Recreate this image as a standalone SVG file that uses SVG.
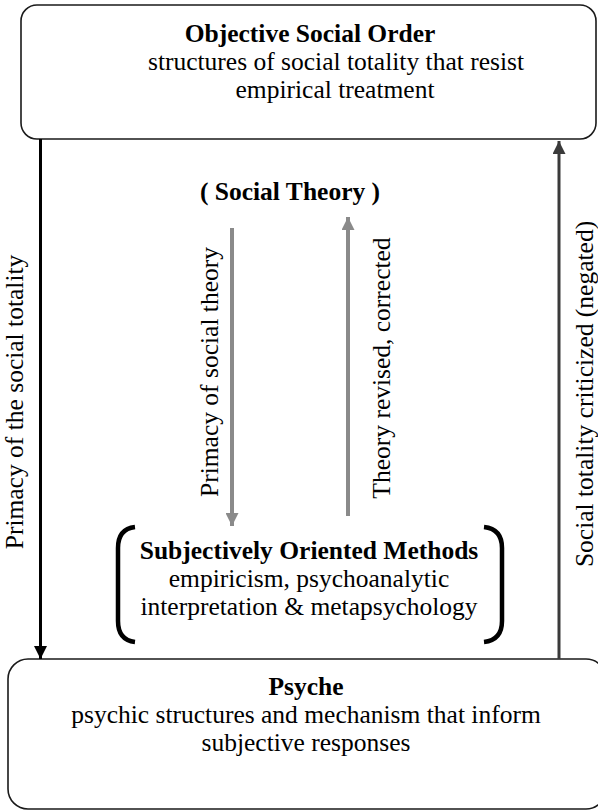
<svg xmlns="http://www.w3.org/2000/svg" width="598" height="811" viewBox="0 0 598 811">
  <style>
    text { font-family: 'Liberation Serif', 'Times New Roman', Times, serif; font-size: 25.5px; fill: #000; }
    .b { font-weight: bold; }
    .box { fill: #fff; stroke: #1a1a1a; stroke-width: 1.6; }
    .bracket { fill: none; stroke: #000; stroke-width: 4.5; }
  </style>
  <defs>
    <marker id="headBlack" viewBox="0 0 10 10" refX="10" refY="5" markerWidth="13" markerHeight="13" markerUnits="userSpaceOnUse" orient="auto">
      <path d="M0,0 L10,5 L0,10 Z" fill="#000"/>
    </marker>
    <marker id="headDark" viewBox="0 0 10 10" refX="10" refY="5" markerWidth="13" markerHeight="13" markerUnits="userSpaceOnUse" orient="auto">
      <path d="M0,0 L10,5 L0,10 Z" fill="#3a3a3a"/>
    </marker>
    <marker id="headGray" viewBox="0 0 10 10" refX="10" refY="5" markerWidth="13" markerHeight="13" markerUnits="userSpaceOnUse" orient="auto">
      <path d="M0,0 L10,5 L0,10 Z" fill="#8a8a8a"/>
    </marker>
  </defs>

  <g id="objective-social-order">
    <rect class="box" x="21" y="5" width="575" height="134" rx="16"/>
    <text class="b" x="310" y="42" text-anchor="middle">Objective Social Order</text>
    <text x="336" y="70" text-anchor="middle">structures of social totality that resist</text>
    <text x="335" y="98" text-anchor="middle">empirical treatment</text>
  </g>

  <g id="social-theory">
    <text class="b" x="290" y="200" text-anchor="middle">( Social Theory )</text>
  </g>

  <g id="subjective-methods">
    <path class="bracket" d="M135,527 Q118,529 118,548 L118,621 Q118,640 135,642"/>
    <path class="bracket" d="M484,527 Q502,529 502,548 L502,621 Q502,640 484,642"/>
    <text class="b" x="309" y="559" text-anchor="middle">Subjectively Oriented Methods</text>
    <text x="309" y="587" text-anchor="middle">empiricism, psychoanalytic</text>
    <text x="309" y="615" text-anchor="middle">interpretation &amp; metapsychology</text>
  </g>

  <g id="psyche">
    <rect class="box" x="8" y="659" width="598" height="150" rx="20"/>
    <text class="b" x="306" y="695" text-anchor="middle">Psyche</text>
    <text x="306" y="723" text-anchor="middle">psychic structures and mechanism that inform</text>
    <text x="306" y="751" text-anchor="middle">subjective responses</text>
  </g>

  <g id="connectors">
    <line x1="40.5" y1="139" x2="40.5" y2="659" stroke="#000" stroke-width="3" marker-end="url(#headBlack)"/>
    <line x1="559" y1="659" x2="559" y2="141" stroke="#3a3a3a" stroke-width="3" marker-end="url(#headDark)"/>
    <line x1="232" y1="228" x2="232" y2="526" stroke="#8a8a8a" stroke-width="4" marker-end="url(#headGray)"/>
    <line x1="348" y1="516" x2="348" y2="217" stroke="#8a8a8a" stroke-width="4" marker-end="url(#headGray)"/>
    <text transform="translate(23,402) rotate(-90)" text-anchor="middle">Primacy of the social totality</text>
    <text transform="translate(218,372) rotate(-90)" text-anchor="middle">Primacy of social theory</text>
    <text transform="translate(390,368) rotate(-90)" text-anchor="middle">Theory revised, corrected</text>
    <text transform="translate(593,394) rotate(-90)" text-anchor="middle">Social totality criticized (negated)</text>
  </g>
</svg>
